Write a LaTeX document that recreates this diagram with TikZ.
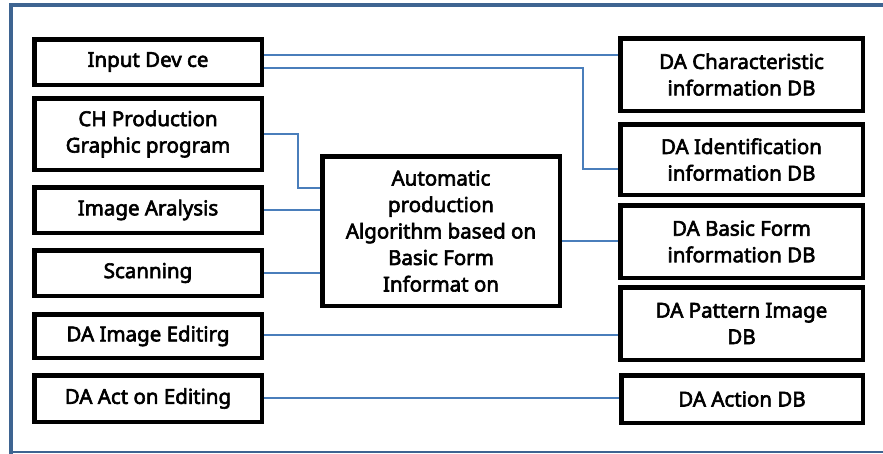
\documentclass[tikz,border=0pt]{standalone}
\usepackage{fontspec}
\newfontfamily\boxfont{Noto Sans}[FakeBold=3]
\begin{document}
\begin{tikzpicture}[x=1pt,y=-1pt,
  box/.style={draw=black,line width=3pt,fill=white,inner sep=0pt,align=center,
    font=\boxfont\fontsize{20.5}{26.5}\selectfont},
  link/.style={draw=linkblue,line width=2.8pt},
  ]
\definecolor{linkblue}{HTML}{4A7EBB}
\definecolor{framecol}{HTML}{3E6491}
\useasboundingbox (0,0) rectangle (883,453);
\fill[white] (0,0) rectangle (883,453);
% outer frame
\draw[framecol,line width=4pt] (11,460) -- (11,5) -- (890,5);
\draw[framecol,line width=1.5pt] (11,452) -- (890,452);
% left column
\node[box,minimum width=226pt,minimum height=44pt] (inp) at (148,62) {Input Dev ce};
\node[box,minimum width=226pt,minimum height=70pt] (chp) at (148,134) {CH Production\\Graphic program};
\node[box,minimum width=226pt,minimum height=44pt] (ima) at (148,210) {Image Aralysis};
\node[box,minimum width=226pt,minimum height=44pt] (scn) at (148,273) {Scanning};
\node[box,minimum width=226pt,minimum height=42pt] (die) at (148,336) {DA Image Editirg};
\node[box,minimum width=226pt,minimum height=45pt] (dae) at (148,398.5) {DA Act on Editing};
% centre
\node[box,minimum width=236pt,minimum height=148pt] (alg) at (441,231) {Automatic\\production\\Algorithm based on\\Basic Form\\Informat on};
% right column
\node[box,minimum width=241pt,minimum height=71pt] (chr) at (741.5,74.5) {DA Characteristic\\information DB};
\node[box,minimum width=241pt,minimum height=69pt] (idn) at (741.5,159.5) {DA Identification\\information DB};
\node[box,minimum width=241pt,minimum height=71pt] (bas) at (741.5,241.5) {DA Basic Form\\information DB};
\node[box,minimum width=241pt,minimum height=71pt] (pat) at (741.5,323.5) {DA Pattern Image\\DB};
\node[box,minimum width=240pt,minimum height=46pt] (act) at (742,399) {DA Action DB};
% connectors
\coordinate (c1) at (583,68);
\coordinate (c2) at (298,134);
\draw[link] (inp.east |- 0,55) -- (chr.west |- 0,55);
\draw[link] (inp.east |- 0,68) -- (c1) |- (idn.west |- 0,169);
\draw[link] (chp.east |- 0,134) -- (c2) |- (alg.west |- 0,188);
\draw[link] (ima.east) -- (alg.west |- ima.east);
\draw[link] (scn.east) -- (alg.west |- scn.east);
\draw[link] (alg.east |- 0,241) -- (bas.west |- 0,241);
\draw[link] (die.east |- 0,335) -- (pat.west |- 0,335);
\draw[link] (dae.east |- 0,398) -- (act.west |- 0,398);
% redraw boxes over line ends
\foreach \n in {inp,chp,ima,scn,die,dae,alg,chr,idn,bas,pat,act}
  \draw[black,line width=3pt] (\n.south west) rectangle (\n.north east);
\end{tikzpicture}
\end{document}
